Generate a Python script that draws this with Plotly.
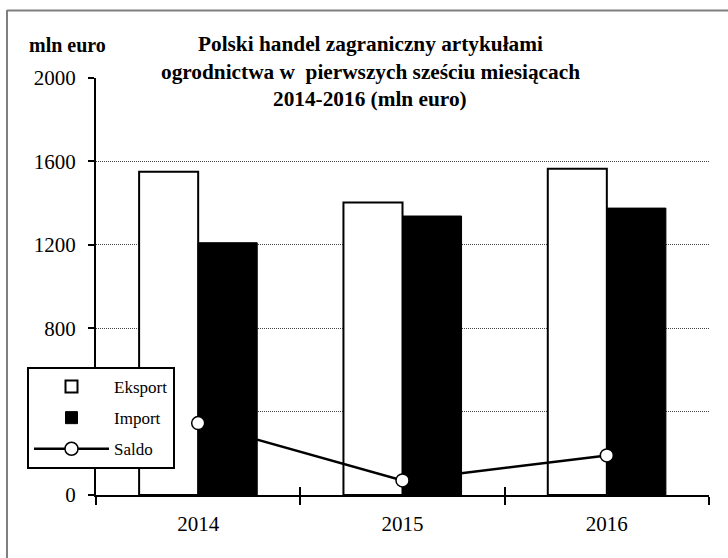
import plotly.graph_objects as go

years = ["2014", "2015", "2016"]
eksport = [1550, 1403, 1565]
importv = [1210, 1338, 1376]
saldo = [345, 70, 190]
y_ticks = [0, 400, 800, 1200, 1600, 2000]

title_lines = [
    "Polski handel zagraniczny artykułami",
    "ogrodnictwa w&nbsp; pierwszych sześciu miesiącach",
    "2014-2016 (mln euro)",
]
unit_label = "mln euro"

W, H = 728, 558
ML, MR, MT, MB = 96, 19, 78, 63
PW, PH = W - ML - MR, H - MT - MB


def px_x(p):
    return (p - ML) / PW


def px_y(p):
    return (H - MB - p) / PH


FONT = "Liberation Serif, Times New Roman, serif"

fig = go.Figure()
fig.add_trace(go.Bar(
    x=years, y=eksport, name="Eksport",
    marker=dict(color="white", line=dict(color="black", width=2)),
    legendgroup="a",
))
fig.add_trace(go.Bar(
    x=years, y=importv, name="Import",
    marker=dict(color="black", line=dict(color="black", width=1)),
    legendgroup="b",
))
fig.add_trace(go.Scatter(
    x=years, y=saldo, name="Saldo", mode="lines+markers",
    line=dict(color="black", width=2.5),
    marker=dict(size=13, color="white", line=dict(color="black", width=1.5)),
    legendgroup="c",
))
fig.add_trace(go.Scatter(x=[], y=[], xaxis="x2", showlegend=False, hoverinfo="skip"))

bounds = [i - 0.5 for i in range(len(years) + 1)]

fig.update_layout(
    width=W, height=H,
    margin=dict(l=ML, r=MR, t=MT, b=MB, pad=0),
    paper_bgcolor="white", plot_bgcolor="white",
    font=dict(family=FONT, color="black", size=21),
    barmode="group", bargap=0.422, bargroupgap=0,
    showlegend=True,
    legend=dict(
        x=px_x(27), y=px_y(367), xanchor="left", yanchor="top",
        bordercolor="black", borderwidth=2, bgcolor="white",
        font=dict(family=FONT, size=17, color="black"),
        itemwidth=75, tracegroupgap=6,
        entrywidth=178, entrywidthmode="pixels",
        traceorder="grouped",
    ),
    xaxis=dict(
        type="category", range=[-0.5, len(years) - 0.5],
        showline=True, linecolor="black", linewidth=2,
        ticks="outside", tickson="boundaries", ticklen=8, tickwidth=2, tickcolor="black",
        showgrid=False, ticklabelstandoff=9,
        tickfont=dict(family=FONT, size=21),
    ),
    xaxis2=dict(
        overlaying="x", anchor="y", side="bottom",
        range=[-0.5, len(years) - 0.5],
        tickmode="array", tickvals=bounds,
        ticks="inside", ticklen=8, tickwidth=2, tickcolor="black",
        showticklabels=False, showgrid=False, showline=False, zeroline=False,
    ),
    yaxis=dict(
        range=[0, 2000], tickmode="array", tickvals=y_ticks,
        showline=True, linecolor="black", linewidth=2,
        ticks="outside", ticklen=6, tickwidth=2, tickcolor="black",
        showgrid=True, gridcolor="#444", gridwidth=1, griddash="1px,1px",
        zeroline=False, ticklabelstandoff=8,
        tickfont=dict(family=FONT, size=21),
    ),
)

# title and unit label
title_y = [44, 72, 99]
for line, ty in zip(title_lines, title_y):
    fig.add_annotation(
        text="<b>" + line + "</b>", x=px_x(370), y=px_y(ty),
        xref="paper", yref="paper", showarrow=False,
        xanchor="center", yanchor="middle",
        font=dict(family=FONT, size=21.3, color="black"),
    )
fig.add_annotation(
    text="<b>" + unit_label + "</b>", x=px_x(27), y=px_y(45),
    xref="paper", yref="paper", showarrow=False,
    xanchor="left", yanchor="middle",
    font=dict(family=FONT, size=20, color="black"),
)

# outer chart frame (top and left edges visible)
fig.add_shape(type="line", xref="paper", yref="paper",
              x0=px_x(7), x1=px_x(W + 5), y0=px_y(10.5), y1=px_y(10.5),
              line=dict(color="#7f7f7f", width=2))
fig.add_shape(type="line", xref="paper", yref="paper",
              x0=px_x(7), x1=px_x(7), y0=px_y(10), y1=px_y(H + 5),
              line=dict(color="#7f7f7f", width=2))

fig.write_html("out.html", post_script="document.body.style.margin='0';",
               config={"displayModeBar": False})
